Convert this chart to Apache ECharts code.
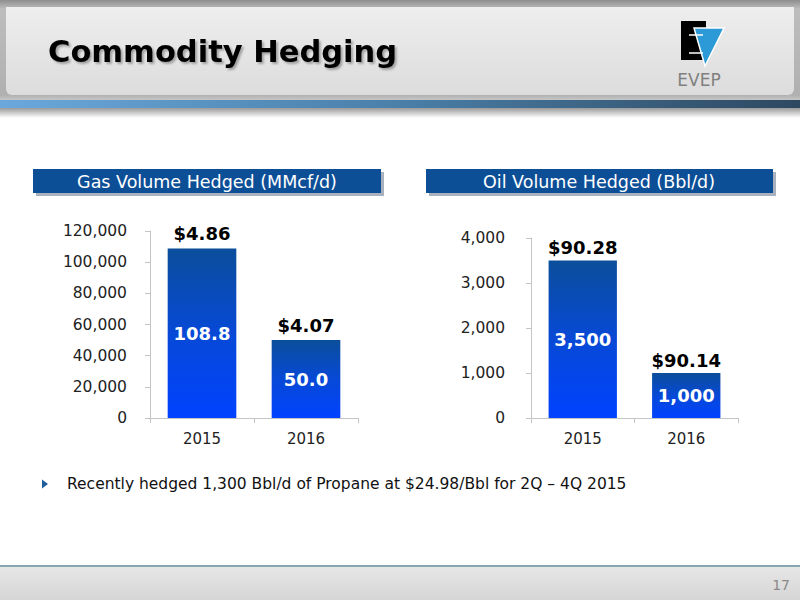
<!DOCTYPE html>
<html>
<head>
<meta charset="utf-8">
<script src="https://cdn.jsdelivr.net/npm/echarts@6/dist/echarts.min.js"></script>
<style>
  html, body { margin: 0; padding: 0; background: #ffffff; }
  #chart { width: 800px; height: 600px; }
</style>
</head>
<body>
<div id="chart"></div>
<script>
// ---- data ----
const categories = ['2015', '2016'];
const gasVolume = [108800, 50000];
const gasVolumeLabels = ['108.8', '50.0'];
const gasPriceLabels = ['$4.86', '$4.07'];
const gasAxisTicks = [0, 20000, 40000, 60000, 80000, 100000, 120000];
const oilVolume = [3500, 1000];
const oilVolumeLabels = ['3,500', '1,000'];
const oilPriceLabels = ['$90.28', '$90.14'];
const oilAxisTicks = [0, 1000, 2000, 3000, 4000];

const slideTitle = 'Commodity Hedging';
const gasTitle = 'Gas Volume Hedged (MMcf/d)';
const oilTitle = 'Oil Volume Hedged (Bbl/d)';
const bulletText = 'Recently hedged 1,300 Bbl/d of Propane at $24.98/Bbl for 2Q \u2013 4Q 2015';
const pageNumber = '17';

const FONT = 'DejaVu Sans';
const chart = echarts.init(document.getElementById('chart'), null, { renderer: 'svg' });

const barGradient = new echarts.graphic.LinearGradient(0, 0, 0, 1, [
  { offset: 0, color: '#0b4e9b' },
  { offset: 0.5, color: '#0749d6' },
  { offset: 1, color: '#0042ff' }
]);

function axisX(gridIndex) {
  return {
    type: 'category', gridIndex: gridIndex, data: categories,
    axisLine: { show: true, lineStyle: { color: '#c4c4c4', width: 1 } },
    axisTick: { show: true, length: 5, lineStyle: { color: '#c4c4c4' } },
    axisLabel: { color: '#222', fontSize: 15, fontFamily: FONT, margin: 13 }
  };
}
function axisY(gridIndex, ticks, margin) {
  return {
    type: 'value', gridIndex: gridIndex,
    min: ticks[0], max: ticks[ticks.length - 1], interval: ticks[1] - ticks[0],
    axisLine: { show: true, lineStyle: { color: '#c4c4c4', width: 1 } },
    axisTick: { show: true, length: 5, lineStyle: { color: '#c4c4c4' } },
    splitLine: { show: false },
    axisLabel: { color: '#222', fontSize: 15.5, fontFamily: FONT, margin: margin,
      formatter: v => v.toLocaleString('en-US') }
  };
}
function barSeries(idx, values, insideLabels, topLabels, topDist) {
  return [
    {
      type: 'bar', xAxisIndex: idx, yAxisIndex: idx, data: values, barWidth: '66%',
      itemStyle: { color: barGradient }, silent: true,
      label: { show: true, position: 'inside', color: '#fff', fontWeight: 'bold',
        fontSize: 18, fontFamily: FONT, formatter: p => insideLabels[p.dataIndex] }
    },
    {
      type: 'bar', xAxisIndex: idx, yAxisIndex: idx, data: values, barWidth: '66%',
      barGap: '-100%', itemStyle: { color: 'rgba(0,0,0,0)' }, silent: true,
      label: { show: true, position: 'top', distance: topDist, color: '#000', fontWeight: 'bold',
        fontSize: 18, fontFamily: FONT, formatter: p => topLabels[p.dataIndex] }
    }
  ];
}

const graphics = [
  // header frame
  { type: 'rect', shape: { x: 0, y: 0, width: 800, height: 112 },
    style: { fill: new echarts.graphic.LinearGradient(0, 0, 0, 1, [
      { offset: 0, color: '#8e8e8e' }, { offset: 0.08, color: '#bdbdbd' },
      { offset: 0.85, color: '#b0b0b0' }, { offset: 1, color: '#ffffff' }]) }, silent: true },
  { type: 'rect', shape: { x: 6, y: 7, width: 788, height: 88, r: [0, 0, 6, 6] },
    style: { fill: new echarts.graphic.LinearGradient(0, 0, 0, 1, [
      { offset: 0, color: '#eeeeee' }, { offset: 1, color: '#dcdcdc' }]) }, silent: true },
  { type: 'rect', shape: { x: 0, y: 100, width: 800, height: 8 },
    style: { fill: new echarts.graphic.LinearGradient(0, 0, 1, 0, [
      { offset: 0, color: '#6aa8dc' }, { offset: 0.5, color: '#4a7fa8' }, { offset: 1, color: '#2e4860' }]) }, silent: true },
  { type: 'rect', shape: { x: 0, y: 108, width: 800, height: 10 },
    style: { fill: new echarts.graphic.LinearGradient(0, 0, 0, 1, [
      { offset: 0, color: '#9a9a9a' }, { offset: 1, color: '#ffffff' }]) }, silent: true },
  { type: 'text', style: { x: 48, y: 51, text: slideTitle, fill: '#000', font: 'bold 30.5px "' + FONT + '"',
      textAlign: 'left', textVerticalAlign: 'middle',
      textShadowColor: 'rgba(0,0,0,0.3)', textShadowOffsetX: 2, textShadowOffsetY: 2, textShadowBlur: 2 }, silent: true },
  // logo
  { type: 'rect', shape: { x: 681, y: 21, width: 25, height: 39 }, style: { fill: '#000' }, silent: true },
  { type: 'polygon', shape: { points: [[694, 28], [724, 28], [705, 66]] },
    style: { fill: '#2b9ad6', stroke: '#ffffff', lineWidth: 1.5 }, silent: true },
  { type: 'line', shape: { x1: 689, y1: 35, x2: 703, y2: 35 }, style: { stroke: '#fff', lineWidth: 1.5 }, silent: true },
  { type: 'line', shape: { x1: 689, y1: 53, x2: 703, y2: 53 }, style: { stroke: '#fff', lineWidth: 1.5 }, silent: true },
  { type: 'text', style: { x: 699, y: 80, text: 'EVEP', fill: '#808080', font: '17px "' + FONT + '"',
      textAlign: 'center', textVerticalAlign: 'middle' }, silent: true },
  // panel titles
  { type: 'rect', shape: { x: 36, y: 172, width: 348, height: 24 }, style: { fill: '#a9b1bd' }, silent: true },
  { type: 'rect', shape: { x: 33, y: 169, width: 348, height: 24 }, style: { fill: '#0d4f97' }, silent: true },
  { type: 'text', style: { x: 207, y: 181.5, text: gasTitle, fill: '#fff', font: '17.5px "' + FONT + '"',
      textAlign: 'center', textVerticalAlign: 'middle' }, silent: true },
  { type: 'rect', shape: { x: 429, y: 172, width: 347, height: 24 }, style: { fill: '#a9b1bd' }, silent: true },
  { type: 'rect', shape: { x: 426, y: 169, width: 347, height: 24 }, style: { fill: '#0d4f97' }, silent: true },
  { type: 'text', style: { x: 599, y: 181.5, text: oilTitle, fill: '#fff', font: '17.5px "' + FONT + '"',
      textAlign: 'center', textVerticalAlign: 'middle' }, silent: true },
  // bullet
  { type: 'polygon', shape: { points: [[42, 479.5], [42, 488.5], [48, 484]] }, style: { fill: '#1f5c9c' }, silent: true },
  { type: 'text', style: { x: 67, y: 484, text: bulletText, fill: '#111', font: '15.5px "' + FONT + '"',
      textAlign: 'left', textVerticalAlign: 'middle' }, silent: true },
  // footer
  { type: 'rect', shape: { x: 0, y: 567, width: 800, height: 33 },
    style: { fill: new echarts.graphic.LinearGradient(0, 0, 0, 1, [
      { offset: 0, color: '#e6e6e6' }, { offset: 1, color: '#d6d6d6' }]) }, silent: true },
  { type: 'line', shape: { x1: 0, y1: 566, x2: 800, y2: 566 }, style: { stroke: '#86a6b2', lineWidth: 2 }, silent: true },
  { type: 'text', style: { x: 790, y: 585, text: pageNumber, fill: '#8a8a8a', font: '14px "' + FONT + '"',
      textAlign: 'right', textVerticalAlign: 'middle' }, silent: true }
];

chart.setOption({
  animation: false,
  textStyle: { fontFamily: FONT },
  graphic: graphics,
  grid: [
    { left: 150, top: 231, width: 208, height: 187, containLabel: false },
    { left: 531, top: 238, width: 207, height: 180, containLabel: false }
  ],
  xAxis: [axisX(0), axisX(1)],
  yAxis: [axisY(0, gasAxisTicks, 23), axisY(1, oilAxisTicks, 26)],
  series: [].concat(
    barSeries(0, gasVolume, gasVolumeLabels, gasPriceLabels, 6),
    barSeries(1, oilVolume, oilVolumeLabels, oilPriceLabels, 4)
  )
});
</script>
</body>
</html>
